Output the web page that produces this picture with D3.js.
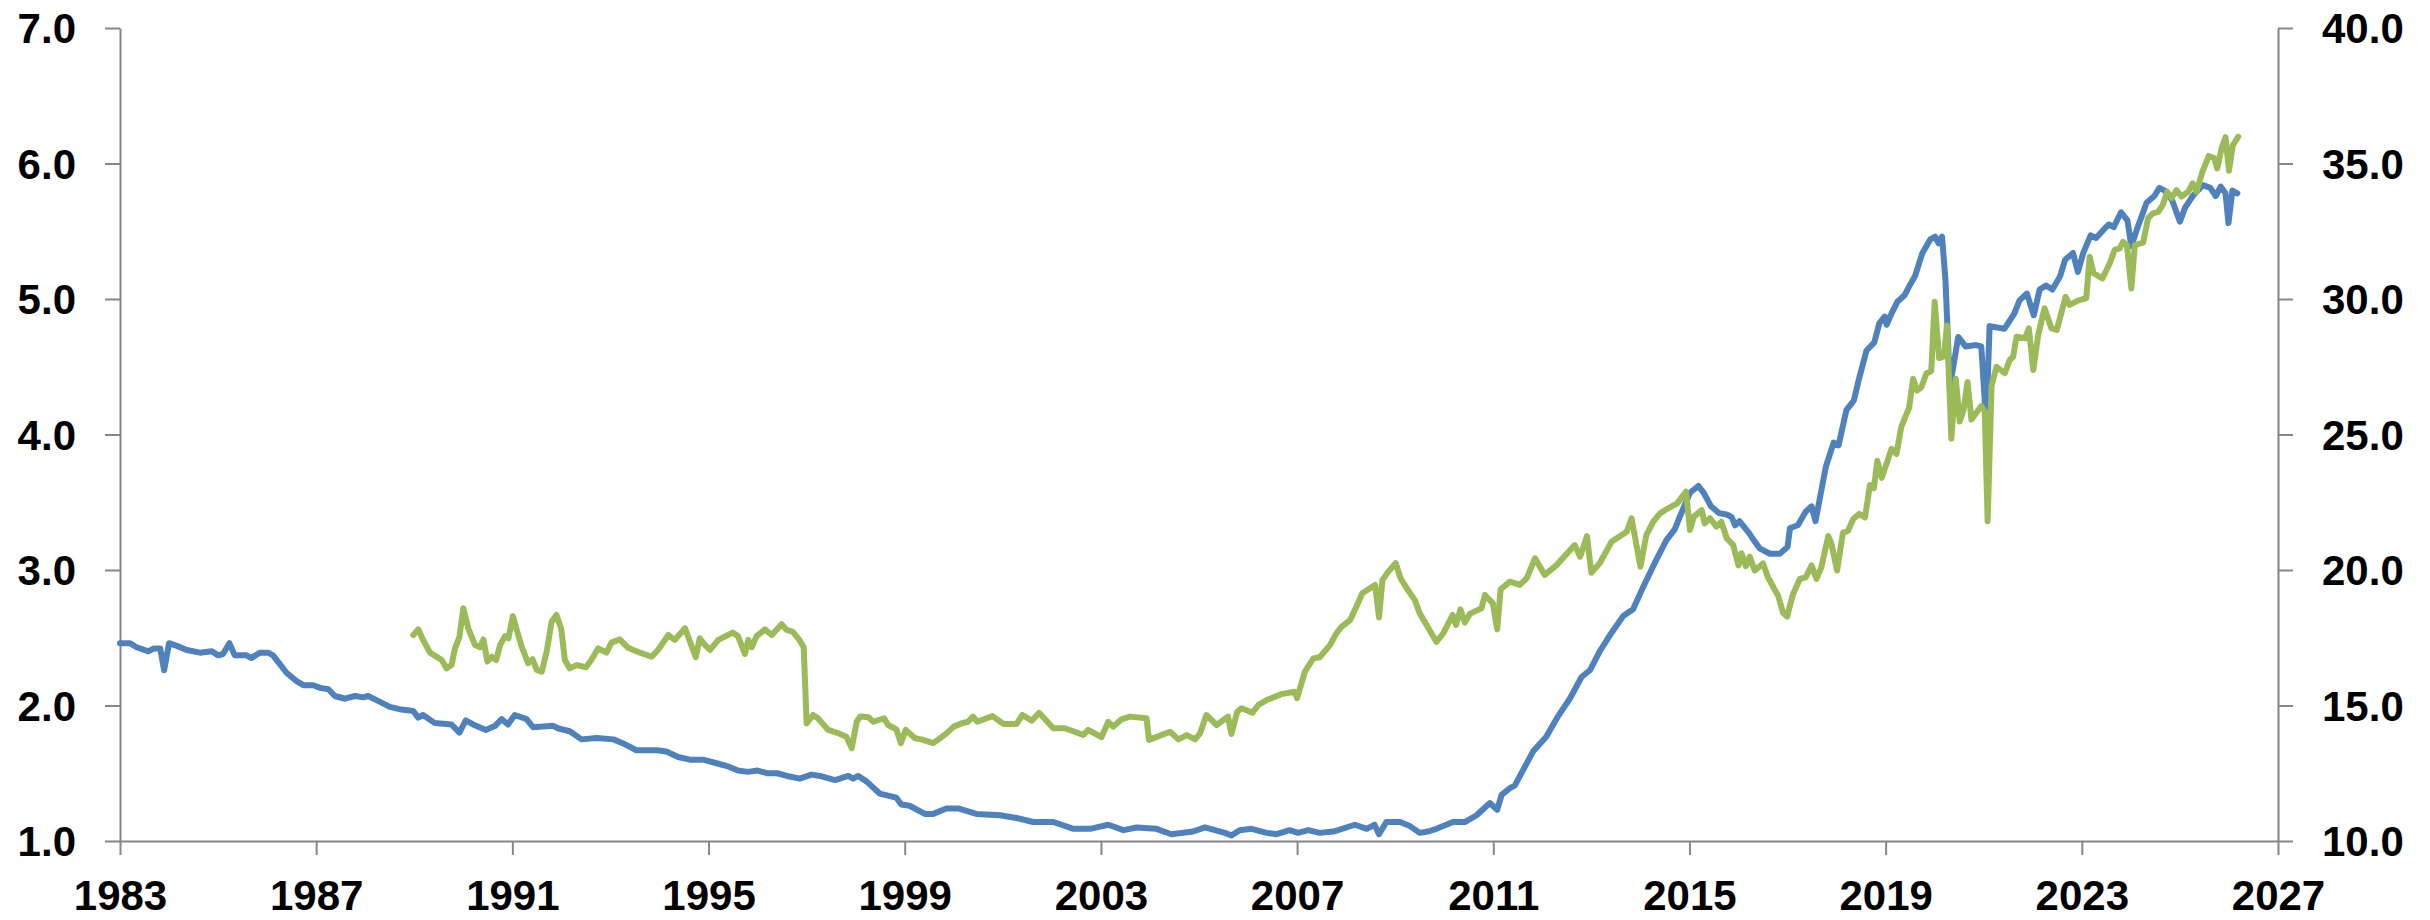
<!DOCTYPE html>
<html lang="en">
<head>
  <meta charset="UTF-8">
  <title>Chart</title>
  <script src="https://d3js.org/d3.v7.min.js"></script>
  <style>
    body {
      margin: 0;
      padding: 0;
      background: #ffffff;
    }
    .axis text {
      font-family: "Liberation Sans", Arial, sans-serif;
      font-size: 42px;
      font-weight: bold;
      fill: #000000;
    }
    .axis path, .axis line {
      stroke: #868686;
      stroke-width: 2;
    }
  </style>
</head>
<body>
  <svg id="chart"></svg>

  <script>
    // left axis series (blue)
    const blueYears = [
      1983.00, 1983.20, 1983.34, 1983.58, 1983.68, 1983.82, 1983.90, 1984.00, 1984.16, 1984.36,
      1984.63, 1984.87, 1985.00, 1985.10, 1985.23, 1985.34, 1985.58, 1985.68, 1985.85, 1986.02,
      1986.12, 1986.40, 1986.60, 1986.74, 1986.94, 1987.08, 1987.25, 1987.38, 1987.59, 1987.79,
      1987.96, 1988.06, 1988.23, 1988.50, 1988.74, 1988.98, 1989.08, 1989.18, 1989.42, 1989.76,
      1989.92, 1990.05, 1990.20, 1990.46, 1990.65, 1990.78, 1990.91, 1991.05, 1991.29, 1991.42,
      1991.83, 1991.94, 1992.17, 1992.41, 1992.72, 1993.06, 1993.26, 1993.53, 1993.94, 1994.14,
      1994.38, 1994.62, 1994.89, 1995.20, 1995.40, 1995.60, 1995.80, 1996.00, 1996.20, 1996.40,
      1996.60, 1996.86, 1997.10, 1997.27, 1997.58, 1997.85, 1997.95, 1998.05, 1998.22, 1998.49,
      1998.83, 1998.93, 1999.10, 1999.41, 1999.58, 1999.85, 2000.09, 2000.46, 2000.94, 2001.28,
      2001.62, 2002.03, 2002.44, 2002.78, 2003.15, 2003.46, 2003.73, 2004.13, 2004.44, 2004.88,
      2005.12, 2005.53, 2005.66, 2005.83, 2006.07, 2006.38, 2006.58, 2006.85, 2007.02, 2007.23,
      2007.46, 2007.74, 2008.18, 2008.42, 2008.58, 2008.67, 2008.82, 2009.10, 2009.30, 2009.50,
      2009.67, 2009.84, 2010.18, 2010.42, 2010.66, 2010.93, 2011.08, 2011.17, 2011.34, 2011.44,
      2011.81, 2012.08, 2012.32, 2012.56, 2012.80, 2012.97, 2013.17, 2013.38, 2013.65, 2013.85,
      2014.05, 2014.29, 2014.53, 2014.70, 2014.80, 2015.01, 2015.18, 2015.29, 2015.44, 2015.60,
      2015.76, 2015.86, 2015.93, 2016.02, 2016.22, 2016.33, 2016.43, 2016.64, 2016.84, 2017.00,
      2017.05, 2017.21, 2017.37, 2017.49, 2017.57, 2017.78, 2017.94, 2018.04, 2018.20, 2018.35,
      2018.45, 2018.61, 2018.77, 2018.87, 2018.98, 2019.02, 2019.13, 2019.24, 2019.39, 2019.49,
      2019.60, 2019.75, 2019.91, 2020.01, 2020.08, 2020.15, 2020.22, 2020.31, 2020.48, 2020.63,
      2020.84, 2020.95, 2021.05, 2021.12, 2021.42, 2021.62, 2021.73, 2021.88, 2022.02, 2022.14,
      2022.27, 2022.40, 2022.56, 2022.66, 2022.82, 2022.92, 2023.03, 2023.18, 2023.29, 2023.44,
      2023.55, 2023.65, 2023.80, 2023.93, 2024.01, 2024.12, 2024.32, 2024.48, 2024.58, 2024.69,
      2024.84, 2025.00, 2025.10, 2025.26, 2025.47, 2025.62, 2025.73, 2025.83, 2025.93, 2025.99,
      2026.07, 2026.17
    ];
    const blueValues = [
      2.46, 2.46, 2.43, 2.40, 2.42, 2.42, 2.26, 2.46, 2.44, 2.41,
      2.39, 2.40, 2.37, 2.38, 2.46, 2.37, 2.37, 2.35, 2.39, 2.39,
      2.37, 2.24, 2.18, 2.15, 2.15, 2.13, 2.12, 2.07, 2.05, 2.07,
      2.06, 2.07, 2.04, 1.99, 1.97, 1.96, 1.91, 1.93, 1.87, 1.86,
      1.80, 1.89, 1.86, 1.82, 1.85, 1.90, 1.86, 1.93, 1.90, 1.84,
      1.85, 1.83, 1.81, 1.75, 1.76, 1.75, 1.72, 1.67, 1.67, 1.66,
      1.62, 1.60, 1.60, 1.57, 1.55, 1.52, 1.51, 1.52, 1.50, 1.50,
      1.48, 1.46, 1.49, 1.48, 1.45, 1.48, 1.46, 1.48, 1.44, 1.35,
      1.32, 1.27, 1.26, 1.20, 1.20, 1.24, 1.24, 1.20, 1.19, 1.17,
      1.14, 1.14, 1.09, 1.09, 1.12, 1.08, 1.10, 1.09, 1.05, 1.07,
      1.10, 1.06, 1.04, 1.08, 1.09, 1.06, 1.05, 1.08, 1.06, 1.08,
      1.06, 1.07, 1.12, 1.09, 1.12, 1.05, 1.14, 1.14, 1.11, 1.06,
      1.07, 1.09, 1.14, 1.14, 1.19, 1.28, 1.23, 1.34, 1.39, 1.41,
      1.66, 1.77, 1.92, 2.05, 2.21, 2.26, 2.40, 2.52, 2.66, 2.71,
      2.87, 3.05, 3.22, 3.30, 3.39, 3.57, 3.62, 3.57, 3.47, 3.42,
      3.41, 3.39, 3.33, 3.36, 3.27, 3.21, 3.16, 3.12, 3.12, 3.17,
      3.31, 3.33, 3.43, 3.47, 3.36, 3.76, 3.94, 3.92, 4.18, 4.25,
      4.40, 4.62, 4.68, 4.82, 4.87, 4.81, 4.90, 4.98, 5.03, 5.10,
      5.17, 5.34, 5.44, 5.46, 5.41, 5.46, 5.14, 4.35, 4.72, 4.65,
      4.66, 4.65, 4.08, 4.80, 4.78, 4.89, 4.99, 5.04, 4.88, 5.07,
      5.10, 5.07, 5.17, 5.29, 5.34, 5.20, 5.34, 5.47, 5.45, 5.51,
      5.55, 5.53, 5.64, 5.58, 5.39, 5.51, 5.71, 5.76, 5.82, 5.80,
      5.73, 5.57, 5.67, 5.76, 5.84, 5.82, 5.76, 5.83, 5.78, 5.56,
      5.80, 5.78
    ];

    // right axis series (green)
    const greenYears = [
      1988.98, 1989.08, 1989.18, 1989.32, 1989.56, 1989.66, 1989.76, 1989.83, 1989.92, 1990.00,
      1990.10, 1990.24, 1990.34, 1990.41, 1990.49, 1990.58, 1990.67, 1990.75, 1990.85, 1990.92,
      1991.01, 1991.09, 1991.19, 1991.32, 1991.41, 1991.50, 1991.60, 1991.70, 1991.80, 1991.90,
      1992.00, 1992.07, 1992.17, 1992.31, 1992.50, 1992.61, 1992.75, 1992.92, 1993.02, 1993.19,
      1993.36, 1993.60, 1993.84, 1993.97, 1994.18, 1994.31, 1994.52, 1994.74, 1994.82, 1994.93,
      1995.03, 1995.20, 1995.49, 1995.60, 1995.74, 1995.81, 1995.88, 1995.98, 1996.15, 1996.29,
      1996.49, 1996.59, 1996.72, 1996.85, 1996.94, 1997.00, 1997.13, 1997.23, 1997.44, 1997.61,
      1997.81, 1997.92, 1998.02, 1998.09, 1998.26, 1998.36, 1998.58, 1998.66, 1998.83, 1998.92,
      1999.02, 1999.21, 1999.34, 1999.58, 1999.72, 1999.85, 2000.00, 2000.16, 2000.29, 2000.39,
      2000.48, 2000.79, 2001.01, 2001.28, 2001.40, 2001.59, 2001.74, 2001.89, 2002.03, 2002.27,
      2002.64, 2002.74, 2003.01, 2003.15, 2003.25, 2003.42, 2003.59, 2003.93, 2003.98, 2004.41,
      2004.58, 2004.75, 2004.92, 2005.02, 2005.15, 2005.36, 2005.59, 2005.66, 2005.78, 2005.87,
      2006.09, 2006.21, 2006.38, 2006.68, 2006.95, 2007.00, 2007.16, 2007.33, 2007.46, 2007.67,
      2007.80, 2007.91, 2008.08, 2008.21, 2008.33, 2008.59, 2008.67, 2008.74, 2008.86, 2009.01,
      2009.11, 2009.26, 2009.40, 2009.50, 2009.64, 2009.84, 2009.98, 2010.17, 2010.24, 2010.33,
      2010.42, 2010.52, 2010.76, 2010.83, 2010.99, 2011.08, 2011.15, 2011.34, 2011.54, 2011.68,
      2011.85, 2012.05, 2012.29, 2012.66, 2012.77, 2012.91, 2013.00, 2013.17, 2013.41, 2013.72,
      2013.82, 2014.00, 2014.12, 2014.26, 2014.40, 2014.53, 2014.75, 2014.93, 2015.01, 2015.09,
      2015.25, 2015.31, 2015.42, 2015.55, 2015.65, 2015.76, 2015.89, 2016.00, 2016.06, 2016.15,
      2016.23, 2016.33, 2016.50, 2016.60, 2016.81, 2016.91, 2016.99, 2017.11, 2017.25, 2017.37,
      2017.49, 2017.59, 2017.69, 2017.83, 2017.89, 2018.01, 2018.13, 2018.23, 2018.34, 2018.46,
      2018.58, 2018.68, 2018.76, 2018.83, 2018.92, 2019.12, 2019.22, 2019.32, 2019.48, 2019.56,
      2019.64, 2019.73, 2019.83, 2019.93, 2020.00, 2020.09, 2020.19, 2020.25, 2020.34, 2020.43,
      2020.51, 2020.59, 2020.67, 2020.75, 2020.85, 2020.95, 2021.02, 2021.08, 2021.16, 2021.26,
      2021.43, 2021.53, 2021.60, 2021.67, 2021.84, 2021.92, 2022.01, 2022.11, 2022.24, 2022.38,
      2022.49, 2022.67, 2022.75, 2022.92, 2023.09, 2023.16, 2023.24, 2023.42, 2023.57, 2023.67,
      2023.77, 2023.84, 2023.92, 2024.01, 2024.08, 2024.25, 2024.35, 2024.45, 2024.56, 2024.65,
      2024.74, 2024.83, 2024.93, 2025.03, 2025.17, 2025.26, 2025.34, 2025.46, 2025.59, 2025.70,
      2025.76, 2025.85, 2025.93, 2026.00, 2026.08, 2026.19
    ];
    const greenValues = [
      17.60, 17.81, 17.42, 16.95, 16.68, 16.37, 16.49, 17.11, 17.52, 18.59,
      17.85, 17.23, 17.15, 17.44, 16.62, 16.80, 16.68, 17.23, 17.56, 17.48,
      18.30, 17.79, 17.17, 16.56, 16.71, 16.31, 16.25, 16.99, 18.09, 18.34,
      17.79, 16.68, 16.37, 16.49, 16.41, 16.68, 17.11, 16.95, 17.32, 17.44,
      17.13, 16.95, 16.80, 17.05, 17.60, 17.42, 17.85, 16.78, 17.48, 17.23,
      17.05, 17.42, 17.69, 17.56, 16.90, 17.42, 17.15, 17.56, 17.81, 17.60,
      18.00, 17.79, 17.72, 17.42, 17.15, 14.34, 14.65, 14.53, 14.10, 14.00,
      13.85, 13.42, 14.40, 14.59, 14.57, 14.40, 14.53, 14.28, 14.12, 13.61,
      14.10, 13.79, 13.75, 13.61, 13.79, 13.97, 14.22, 14.34, 14.40, 14.59,
      14.40, 14.61, 14.32, 14.32, 14.65, 14.44, 14.73, 14.44, 14.16, 14.16,
      13.91, 14.10, 13.83, 14.40, 14.22, 14.49, 14.59, 14.53, 13.73, 14.03,
      13.75, 13.91, 13.75, 13.97, 14.65, 14.28, 14.59, 13.95, 14.77, 14.90,
      14.73, 15.02, 15.20, 15.42, 15.51, 15.27, 16.25, 16.74, 16.78, 17.23,
      17.66, 17.91, 18.15, 18.65, 19.14, 19.45, 18.25, 19.63, 19.94, 20.25,
      19.69, 19.26, 18.89, 18.40, 17.97, 17.35, 17.66, 18.34, 17.97, 18.55,
      18.06, 18.38, 18.59, 19.08, 18.77, 17.81, 19.29, 19.57, 19.45, 19.69,
      20.43, 19.82, 20.18, 20.92, 20.49, 21.25, 19.90, 20.25, 21.04, 21.41,
      21.91, 20.12, 21.29, 21.78, 22.09, 22.24, 22.46, 22.89, 21.48, 21.97,
      22.21, 21.72, 21.91, 21.60, 21.78, 21.17, 20.93, 20.17, 20.62, 20.14,
      20.49, 19.98, 20.24, 19.73, 19.04, 18.41, 18.28, 19.10, 19.67, 19.73,
      20.17, 19.67, 20.11, 21.25, 21.00, 19.98, 21.38, 21.44, 21.88, 22.07,
      21.94, 23.14, 23.02, 24.03, 23.40, 24.47, 24.28, 25.29, 25.99, 27.06,
      26.62, 26.75, 27.25, 27.34, 29.90, 27.82, 27.88, 29.02, 24.85, 27.06,
      25.48, 25.92, 26.94, 25.55, 25.80, 26.05, 25.86, 21.80, 26.80, 27.50,
      27.26, 27.75, 27.87, 28.61, 28.55, 28.92, 27.38, 28.67, 29.66, 28.92,
      28.86, 30.08, 29.78, 29.94, 30.03, 31.56, 30.95, 30.76, 31.32, 31.81,
      31.87, 32.11, 31.99, 30.39, 31.99, 32.08, 32.98, 33.16, 33.22, 33.47,
      33.96, 33.72, 34.02, 33.78, 33.96, 34.27, 33.96, 34.70, 35.28, 35.19,
      34.82, 35.56, 35.97, 34.73, 35.68, 35.99
    ];

    const xTicks = [1983, 1987, 1991, 1995, 1999, 2003, 2007, 2011, 2015, 2019, 2023, 2027];
    const leftTicks = [1, 2, 3, 4, 5, 6, 7];
    const rightTicks = [10, 15, 20, 25, 30, 35, 40];

    const width = 2430;
    const height = 920;
    const plot = { left: 120, right: 2278, top: 28, bottom: 841 };

    const svg = d3.select("#chart")
      .attr("width", width)
      .attr("height", height);

    const x = d3.scaleLinear()
      .domain([1983, 2027])
      .range([plot.left, plot.right]);

    const yLeft = d3.scaleLinear()
      .domain([1, 7])
      .range([plot.bottom, plot.top]);

    const yRight = d3.scaleLinear()
      .domain([10, 40])
      .range([plot.bottom, plot.top]);

    // axes
    const xAxis = svg.append("g")
      .attr("class", "axis")
      .attr("transform", `translate(0,${plot.bottom})`)
      .call(d3.axisBottom(x).tickValues(xTicks).tickFormat(d3.format("d"))
        .tickSize(14).tickSizeOuter(0).tickPadding(25));

    const leftAxis = svg.append("g")
      .attr("class", "axis")
      .attr("transform", `translate(${plot.left},0)`)
      .call(d3.axisLeft(yLeft).tickValues(leftTicks).tickFormat(d3.format(".1f"))
        .tickSize(15).tickSizeOuter(0).tickPadding(29));

    const rightAxis = svg.append("g")
      .attr("class", "axis")
      .attr("transform", `translate(${plot.right},0)`)
      .call(d3.axisRight(yRight).tickValues(rightTicks).tickFormat(d3.format(".1f"))
        .tickSize(15).tickSizeOuter(0).tickPadding(29));

    leftAxis.selectAll("text").attr("dy", "0.35em");
    rightAxis.selectAll("text").attr("dy", "0.35em");

    // lines
    const blueLine = d3.line()
      .x((d, i) => x(blueYears[i]))
      .y(d => yLeft(d));

    const greenLine = d3.line()
      .x((d, i) => x(greenYears[i]))
      .y(d => yRight(d));

    svg.append("path")
      .datum(blueValues)
      .attr("d", blueLine)
      .attr("fill", "none")
      .attr("stroke", "#4F81BD")
      .attr("stroke-width", 6)
      .attr("stroke-linejoin", "round")
      .attr("stroke-linecap", "round");

    svg.append("path")
      .datum(greenValues)
      .attr("d", greenLine)
      .attr("fill", "none")
      .attr("stroke", "#9BBB59")
      .attr("stroke-width", 6)
      .attr("stroke-linejoin", "round")
      .attr("stroke-linecap", "round");
  </script>
</body>
</html>
